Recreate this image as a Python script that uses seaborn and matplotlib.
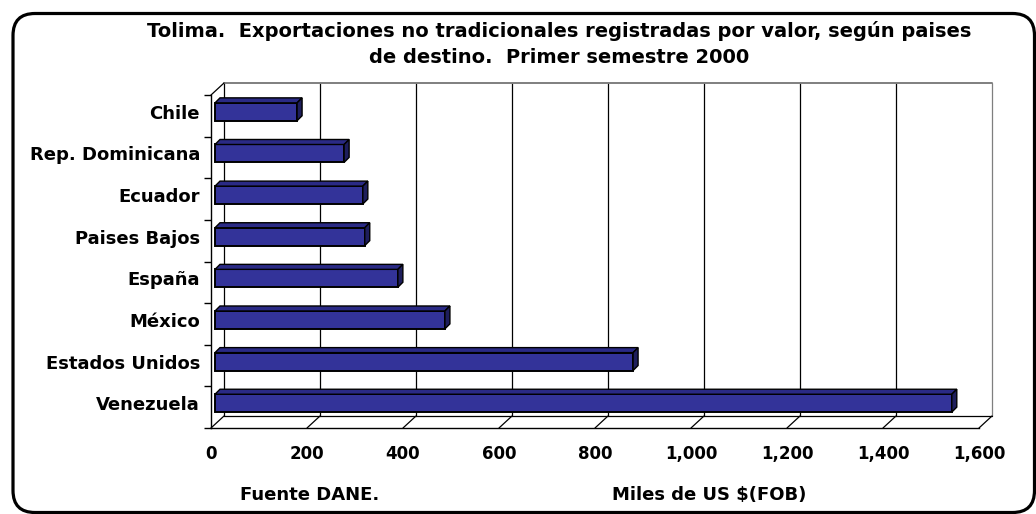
import numpy as np
import pandas as pd
import matplotlib
matplotlib.use("Agg")
import matplotlib.pyplot as plt
import matplotlib.transforms as mtransforms
from matplotlib.patches import FancyBboxPatch, Polygon
import seaborn as sns

# data (miles de US$ FOB)
paises = ['Chile', 'Rep. Dominicana', 'Ecuador', 'Paises Bajos',
          'España', 'México', 'Estados Unidos', 'Venezuela']
valores = [171, 269, 308, 312, 381, 479, 871, 1535]
xticks = [0, 200, 400, 600, 800, 1000, 1200, 1400, 1600]
titulo = ('Tolima.  Exportaciones no tradicionales registradas por valor, según paises\n'
          'de destino.  Primer semestre 2000')
fuente = 'Fuente DANE.'
unidad = 'Miles de US $(FOB)'

BAR_FACE = '#333399'
BAR_TOP = '#2a2a85'
BAR_SIDE = '#1e1e5c'

sns.set_theme(style='white')
plt.rcParams['font.family'] = ['DejaVu Sans']
plt.rcParams['font.weight'] = 'bold'
for k in ['text.color', 'axes.labelcolor', 'xtick.color', 'ytick.color']:
    plt.rcParams[k] = 'black'

W, H = 1036, 514
fig = plt.figure(figsize=(W / 100, H / 100), dpi=100)

# front plane of the pseudo-3D box, in pixels
x0, x1, ytop, ybot = 211, 979, 95, 428
ax = fig.add_axes([x0 / W, (H - ybot) / H, (x1 - x0) / W, (ybot - ytop) / H])

df = pd.DataFrame({'pais': paises, 'valor': valores})
sns.barplot(data=df, x='valor', y='pais', orient='h', color=BAR_FACE,
            saturation=1, width=0.43, edgecolor='black', linewidth=1.4, ax=ax)

ax.set_xlim(0, 1600)
ax.set_ylim(len(paises) - 0.5, -0.5)

# depth of the box and of the bars, in data units
ux = 1600 / (x1 - x0)
uy = len(paises) / (ybot - ytop)
dx, dy = 13 * ux, 12 * uy
bx0, by0 = 4 * ux, 4 * uy      # bar front face offset
bdx, bdy = 5 * ux, 5 * uy      # bar depth

for p in ax.patches:
    p.set_x(p.get_x() + bx0)
    p.set_y(p.get_y() - by0)
    x, y, w, h = p.get_x(), p.get_y(), p.get_width(), p.get_height()
    top = Polygon([(x, y), (x + bdx, y - bdy), (x + w + bdx, y - bdy), (x + w, y)],
                  closed=True, facecolor=BAR_TOP, edgecolor='black', lw=1.0, zorder=3)
    side = Polygon([(x + w, y), (x + w + bdx, y - bdy), (x + w + bdx, y + h - bdy), (x + w, y + h)],
                   closed=True, facecolor=BAR_SIDE, edgecolor='black', lw=1.0, zorder=3)
    ax.add_patch(top)
    ax.add_patch(side)

yb, yt = len(paises) - 0.5, -0.5
# back wall gridlines
for v in xticks:
    col = '#7f7f7f' if v == xticks[-1] else 'black'
    ax.plot([v + dx, v + dx], [yb - dy, yt - dy], color=col, lw=0.9, zorder=0.5, clip_on=False)
ax.plot([dx, xticks[-1] + dx], [yt - dy, yt - dy], color='#7f7f7f', lw=1.4, zorder=0.5, clip_on=False)
# floor
ax.plot([dx, xticks[-1] + dx], [yb - dy, yb - dy], color='black', lw=0.9, zorder=0.5, clip_on=False)
for v in xticks:
    ax.plot([v, v + dx], [yb, yb - dy], color='black', lw=0.9, zorder=0.5, clip_on=False)
# left wall top edge
ax.plot([0, dx], [yt, yt - dy], color='black', lw=0.9, zorder=0.5, clip_on=False)

for s in ['top', 'right']:
    ax.spines[s].set_visible(False)
for s in ['left', 'bottom']:
    ax.spines[s].set_color('black')
    ax.spines[s].set_linewidth(1.0)

ax.set_xticks(xticks)
ax.set_xticklabels([f'{v:,}' for v in xticks], fontsize=12, fontweight='bold')
ax.tick_params(axis='x', direction='out', length=4, width=1, color='black', pad=8)
ax.set_yticks(np.arange(len(paises)) - by0, paises, fontsize=13, fontweight='bold')
ax.set_yticks(np.arange(len(paises) + 1) - 0.5, minor=True)
ax.tick_params(axis='y', which='major', length=0, pad=8)
ax.tick_params(axis='y', which='minor', direction='out', length=5, width=1, color='black', left=True)
ax.set_xlabel('')
ax.set_ylabel('')
ax.patch.set_alpha(0)

fig.text(559 / W, 1 - 44 / H, titulo, ha='center', va='center', fontsize=14,
         fontweight='bold', linespacing=1.45)
fig.text(240 / W, 1 - 495 / H, fuente, ha='left', va='center', fontsize=13, fontweight='bold')
fig.text(612 / W, 1 - 495 / H, unidad, ha='left', va='center', fontsize=13, fontweight='bold')

# rounded outer frame
frame = FancyBboxPatch((13, 1.5), 1021.5, H - 15, boxstyle='round,pad=0,rounding_size=22',
                       transform=mtransforms.IdentityTransform(), facecolor='none',
                       edgecolor='black', lw=2.3, clip_on=False)
fig.add_artist(frame)

fig.savefig('out.png', dpi=100, facecolor='white')
